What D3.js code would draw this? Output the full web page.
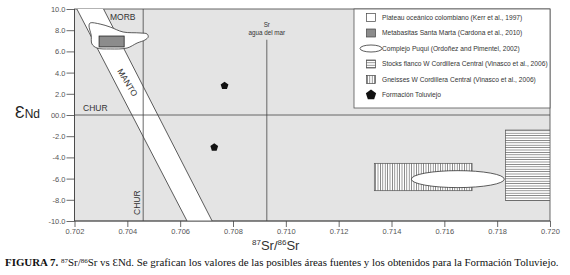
<!DOCTYPE html>
<html>
<head>
  <meta charset="utf-8">
  <title>Sr vs eNd</title>
  <script src="https://d3js.org/d3.v7.min.js"></script>
  <style>
  body { margin: 0; background: white; }
  text { font-family: "Liberation Sans", Arial, sans-serif; fill: #333; }
  .tick text { font-size: 7.5px; fill: #555; font-family: "Liberation Sans", Arial, sans-serif; }
  .tick line, .domain { stroke: #444; stroke-width: 0.8; }
  .caption { font-family: "Liberation Serif", "Times New Roman", serif; fill: #111; }
  </style>
</head>
<body>
  <div id='container'></div>
  <script>

  // axes
  var xTicks = [0.702, 0.704, 0.706, 0.708, 0.710, 0.712, 0.714, 0.716, 0.718, 0.720]
  var yTicks = [10, 8, 6, 4, 2, 0, -2, -4, -6, -8, -10]
  var yTickLabels = ['10.0', '8.0', '6.0', '4.0', '2.0', '00.0', '-2.0', '-4.0', '-6.0', '-8.0', '-10.0']

  // reference lines
  var churSr = 0.7046
  var churNd = 0
  var seawaterSr = 0.70928
  var seawaterTop = 7.1

  // mantle band (two parallel lines, [Sr, eNd])
  var mantoLeft = [[0.70209, 10], [0.70626, -10]]
  var mantoRight = [[0.70310, 10], [0.70721, -10]]

  // MORB outline [Sr, eNd]
  var morb = [
    [0.70259, 8.68], [0.70297, 8.58], [0.70335, 8.30], [0.70384, 7.83],
    [0.70448, 7.74], [0.70475, 7.64], [0.70479, 7.36], [0.70467, 7.08],
    [0.70437, 6.79], [0.70399, 6.32], [0.70335, 6.23], [0.70285, 6.32],
    [0.70266, 6.70], [0.70263, 7.55], [0.70255, 8.40]
  ]

  // source areas [Sr min, Sr max, eNd min, eNd max]
  var metabasitas = [0.70293, 0.70388, 6.42, 7.45]
  var stocks = [0.71831, 0.72000, -8.08, -1.42]
  var gneisses = [0.71335, 0.71705, -7.14, -4.56]
  var puqui = [0.71475, 0.71827, -6.85, -5.25]

  // Formacion Toluviejo samples
  var toluviejo = [
    {sr: 0.70768, nd: 2.76},
    {sr: 0.70729, nd: -3.05}
  ]

  var legendLabels = [
    'Plateau oceánico colombiano (Kerr et al., 1997)',
    'Metabasitas Santa Marta (Cardona et al., 2010)',
    'Complejo Puqui (Ordoñez and Pimentel, 2002)',
    'Stocks flanco W Cordillera Central (Vinasco et al., 2006)',
    'Gneisses W Cordillera Central (Vinasco et al., 2006)',
    'Formación Toluviejo'
  ]


  const width = 570
  const height = 275

  var svg = d3.select('#container')
    .append('svg')
    .attr('width', width)
    .attr('height', height)

  var x = d3.scaleLinear().domain([0.702, 0.720]).range([74.5, 550])
  var y = d3.scaleLinear().domain([-10, 10]).range([221, 9])

  var defs = svg.append('defs')
  defs.append('clipPath').attr('id', 'plotClip')
    .append('rect')
    .attr('x', x(0.702)).attr('y', y(10))
    .attr('width', x(0.720) - x(0.702)).attr('height', y(-10) - y(10))

  var hp = defs.append('pattern').attr('id', 'hLines')
    .attr('patternUnits', 'userSpaceOnUse').attr('width', 4).attr('height', 2.4)
  hp.append('rect').attr('width', 4).attr('height', 2.4).attr('fill', 'white')
  hp.append('line').attr('x1', 0).attr('x2', 4).attr('y1', 1.2).attr('y2', 1.2)
    .attr('stroke', '#555').attr('stroke-width', 0.7)

  var vp = defs.append('pattern').attr('id', 'vLines')
    .attr('patternUnits', 'userSpaceOnUse').attr('width', 2.4).attr('height', 4)
  vp.append('rect').attr('width', 2.4).attr('height', 4).attr('fill', 'white')
  vp.append('line').attr('y1', 0).attr('y2', 4).attr('x1', 1.2).attr('x2', 1.2)
    .attr('stroke', '#555').attr('stroke-width', 0.7)

  // background
  svg.append('rect')
    .attr('x', x(0.702)).attr('y', y(10))
    .attr('width', x(0.720) - x(0.702)).attr('height', y(-10) - y(10))
    .attr('fill', '#e4e4e4')
    .attr('stroke', '#444').attr('stroke-width', 0.8)

  var plot = svg.append('g').attr('clip-path', 'url(#plotClip)')

  // mantle band
  plot.append('path')
    .attr('d', d3.line()(mantoLeft.concat(mantoRight.slice().reverse()).map(d => [x(d[0]), y(d[1])])))
    .attr('fill', 'white')
  ;[mantoLeft, mantoRight].forEach(function(l){
    plot.append('line')
      .attr('x1', x(l[0][0])).attr('y1', y(l[0][1]))
      .attr('x2', x(l[1][0])).attr('y2', y(l[1][1]))
      .attr('stroke', '#333').attr('stroke-width', 0.8)
  })

  // CHUR lines and seawater
  plot.append('line')
    .attr('x1', x(0.702)).attr('x2', x(0.720)).attr('y1', y(churNd)).attr('y2', y(churNd))
    .attr('stroke', '#444').attr('stroke-width', 0.8)
  plot.append('line')
    .attr('x1', x(churSr)).attr('x2', x(churSr)).attr('y1', y(10)).attr('y2', y(-10))
    .attr('stroke', '#444').attr('stroke-width', 0.8)
  plot.append('line')
    .attr('x1', x(seawaterSr)).attr('x2', x(seawaterSr)).attr('y1', y(seawaterTop)).attr('y2', y(-10))
    .attr('stroke', '#444').attr('stroke-width', 0.8)

  // MORB
  plot.append('path')
    .attr('d', d3.line().curve(d3.curveCatmullRomClosed)(morb.map(d => [x(d[0]), y(d[1])])))
    .attr('fill', 'white').attr('stroke', '#333').attr('stroke-width', 0.8)

  plot.append('rect')
    .attr('x', x(metabasitas[0])).attr('y', y(metabasitas[3]))
    .attr('width', x(metabasitas[1]) - x(metabasitas[0]))
    .attr('height', y(metabasitas[2]) - y(metabasitas[3]))
    .attr('fill', '#8c8c8c').attr('stroke', '#222').attr('stroke-width', 0.8)

  // Stocks and gneisses
  plot.append('rect')
    .attr('x', x(stocks[0])).attr('y', y(stocks[3]))
    .attr('width', x(stocks[1]) - x(stocks[0]))
    .attr('height', y(stocks[2]) - y(stocks[3]))
    .attr('fill', 'url(#hLines)').attr('stroke', '#555').attr('stroke-width', 0.7)
  plot.append('rect')
    .attr('x', x(gneisses[0])).attr('y', y(gneisses[3]))
    .attr('width', x(gneisses[1]) - x(gneisses[0]))
    .attr('height', y(gneisses[2]) - y(gneisses[3]))
    .attr('fill', 'url(#vLines)').attr('stroke', '#555').attr('stroke-width', 0.7)

  // Puqui ellipse
  plot.append('ellipse')
    .attr('cx', (x(puqui[0]) + x(puqui[1])) / 2)
    .attr('cy', (y(puqui[2]) + y(puqui[3])) / 2)
    .attr('rx', (x(puqui[1]) - x(puqui[0])) / 2)
    .attr('ry', (y(puqui[2]) - y(puqui[3])) / 2)
    .attr('fill', 'white').attr('stroke', '#333').attr('stroke-width', 0.8)

  // samples
  function pentaType(){
    return {
      draw: function(ctx, size){
        var r = Math.sqrt(size / 2.4)
        for (var i = 0; i < 5; i++) {
          var a = -Math.PI / 2 + i * 2 * Math.PI / 5
          if (i == 0) ctx.moveTo(r * Math.cos(a), r * Math.sin(a))
          else ctx.lineTo(r * Math.cos(a), r * Math.sin(a))
        }
        ctx.closePath()
      }
    }
  }
  var pentagon = d3.symbol().type(pentaType()).size(40)

  plot.selectAll('.sample')
    .data(toluviejo)
    .enter()
    .append('path')
    .attr('class', 'sample')
    .attr('d', pentagon)
    .attr('transform', d => 'translate(' + x(d.sr) + ',' + y(d.nd) + ')')
    .attr('fill', '#111')

  // plot texts
  svg.append('text').attr('x', 110).attr('y', 20).attr('font-size', 8.5).attr('fill', '#333').text('MORB')
  svg.append('text').attr('x', 83).attr('y', y(churNd) - 4).attr('font-size', 8.5).attr('fill', '#333').text('CHUR')
  svg.append('text').attr('transform', 'translate(' + (x(churSr) - 3) + ',215) rotate(-90)')
    .attr('font-size', 8.5).attr('fill', '#333').text('CHUR')
  svg.append('text').attr('transform', 'translate(127.5,82.5) rotate(59)')
    .attr('text-anchor', 'middle').attr('dy', '0.35em').attr('font-size', 8.5).attr('fill', '#333').text('MANTO')
  svg.append('text').attr('x', x(seawaterSr)).attr('y', 27).attr('text-anchor', 'middle')
    .attr('font-size', 6.3).attr('fill', '#444').text('Sr')
  svg.append('text').attr('x', x(seawaterSr)).attr('y', 35).attr('text-anchor', 'middle')
    .attr('font-size', 6.3).attr('fill', '#444').text('agua del mar')

  // axes
  var xAxis = d3.axisBottom(x).tickValues(xTicks).tickFormat(d3.format('.3f')).tickSize(6).tickPadding(2)
  var yAxis = d3.axisLeft(y).tickValues(yTicks).tickFormat((d, i) => yTickLabels[i]).tickSize(8).tickPadding(1)

  svg.append('g').attr('transform', 'translate(0,' + y(-10) + ')').call(xAxis)
    .call(g => g.select('.domain').attr('d', 'M' + x(0.702) + ',0H' + x(0.720)))
  svg.append('g').attr('transform', 'translate(' + x(0.702) + ',0)').call(yAxis)
    .call(g => g.select('.domain').attr('d', 'M0,' + y(10) + 'V' + y(-10)))

  // legend
  var legend = svg.append('g')
  legend.append('rect')
    .attr('x', 354).attr('y', y(10)).attr('width', x(0.720) - 354).attr('height', 108 - y(10))
    .attr('fill', 'white').attr('stroke', '#555').attr('stroke-width', 0.8)

  var rows = legend.selectAll('.row')
    .data(legendLabels)
    .enter()
    .append('g')
    .attr('class', 'row')
    .attr('transform', (d, i) => 'translate(371,' + (17.5 + i * 15.5) + ')')

  rows.append('text').attr('x', 11).attr('dy', '0.35em').attr('font-size', 6.65)
    .attr('fill', '#555').text(d => d)

  rows.each(function(d, i){
    var g = d3.select(this)
    if (i == 0 || i == 1 || i == 3 || i == 4) {
      var fills = ['white', '#8c8c8c', null, 'url(#hLines)', 'url(#vLines)']
      g.append('rect').attr('x', -4.5).attr('y', -4).attr('width', 9).attr('height', 8)
        .attr('fill', fills[i]).attr('stroke', '#444').attr('stroke-width', 0.7)
    } else if (i == 2) {
      g.append('ellipse').attr('cx', 0).attr('cy', 0).attr('rx', 11).attr('ry', 3.5)
        .attr('fill', 'white').attr('stroke', '#333').attr('stroke-width', 0.8)
    } else {
      g.append('path').attr('d', d3.symbol().type(pentaType()).size(70)).attr('fill', '#111')
    }
  })

  // axis titles
  var yt = svg.append('text').attr('x', 15).attr('y', 118)
  yt.append('tspan').attr('font-size', 16).attr('fill', '#222').text('Ɛ')
  yt.append('tspan').attr('font-size', 12).attr('fill', '#222').text('Nd')

  var xt = svg.append('text').attr('x', 252).attr('y', 250).attr('fill', '#222')
  xt.append('tspan').attr('font-size', 8).attr('dy', -5).text('87')
  xt.append('tspan').attr('font-size', 13).attr('dy', 5).text('Sr/')
  xt.append('tspan').attr('font-size', 8).attr('dy', -5).text('86')
  xt.append('tspan').attr('font-size', 13).attr('dy', 5).text('Sr')

  // caption
  var cap = svg.append('text').attr('class', 'caption').attr('x', 5).attr('y', 266).attr('font-size', 10.9)
  cap.append('tspan').attr('font-weight', 'bold').text('FIGURA 7.')
  cap.append('tspan').text(' ')
  cap.append('tspan').attr('font-size', 7).attr('dy', -3.5).text('87')
  cap.append('tspan').attr('dy', 3.5).text('Sr/')
  cap.append('tspan').attr('font-size', 7).attr('dy', -3.5).text('86')
  cap.append('tspan').attr('dy', 3.5).text('Sr vs ƐNd. Se grafican los valores de las posibles áreas fuentes y los obtenidos para la Formación Toluviejo.')

  </script>
</body>
</html>
